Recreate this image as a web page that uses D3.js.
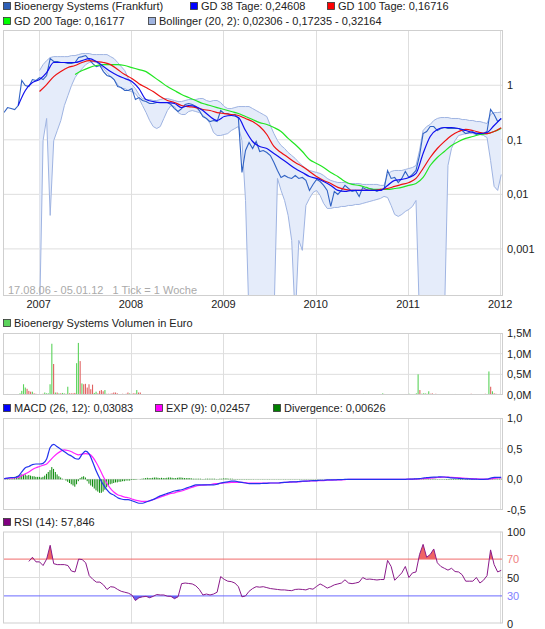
<!DOCTYPE html>
<html><head><meta charset="utf-8">
<script src="https://cdn.jsdelivr.net/npm/d3@7"></script>
<style>
body{margin:0;background:#fff}
text{font-family:"Liberation Sans",Arial,sans-serif;font-size:11px;fill:#222}
</style>
</head><body>
<svg id="c" width="545" height="629"></svg>
<script>
const startDate = Date.UTC(2006,7,17), endDate = Date.UTC(2012,0,5);
const years = [2007,2008,2009,2010,2011,2012];
const priceTicks = [1,0.1,0.01,0.001];
const priceTickLabels = ["1","0,1","0,01","0,001"];
const volTicks = [0,500,1000,1500];
const volTickLabels = ["0,0M","0,5M","1,0M","1,5M"];
const macdTicks = [-0.5,0,0.5,1];
const macdTickLabels = ["-0,5","0,0","0,5","1,0"];
const rsiTicks = [0,30,50,70,100];

// price, 2-week grid
const price = [0.316,0.390,0.374,0.359,0.425,1.22,0.99,0.947,1.27,1.22,
 1.38,1.27,1.51,3.08,2.72,2.72,2.61,2.61,2.50,2.50,
 2.61,3.22,3.35,3.50,2.96,2.50,2.20,2.30,1.78,1.51,
 1.44,1.27,0.947,0.908,0.800,0.800,0.870,0.547,0.595,0.525,
 0.503,0.462,0.462,0.482,0.482,0.482,0.482,0.443,0.374,0.330,
 0.374,0.443,0.462,0.443,0.407,0.344,0.267,0.246,0.216,0.226,
 0.216,0.344,0.303,0.303,0.279,0.291,0.246,0.0252,0.0637,0.0893,
 0.0693,0.0931,0.0611,0.0637,0.0585,0.0516,0.0384,0.0274,0.0204,0.0222,
 0.0204,0.0196,0.0222,0.0196,0.0204,0.0180,0.0118,0.0152,0.0188,0.0172,
 0.0146,0.0118,0.0060,0.0113,0.00996,0.0118,0.0146,0.0128,0.0113,0.0118,
 0.00916,0.0134,0.0123,0.0128,0.0123,0.0113,0.0123,0.0123,0.0274,0.0196,
 0.0204,0.0165,0.0196,0.0263,0.0204,0.0232,0.0274,0.0516,0.130,0.142,
 0.175,0.175,0.148,0.161,0.168,0.161,0.161,0.161,0.161,0.148,
 0.130,0.136,0.142,0.125,0.130,0.130,0.142,0.359,0.291,0.216,
 0.246];

// moving averages, 4-week grid
const gd38 = [null,null,0.425,0.80,1.12,1.27,1.71,2.61,2.61,2.61,
 2.61,2.83,3.08,2.72,2.20,1.78,1.51,1.33,1.17,0.870,
 0.547,0.503,0.482,0.482,0.462,0.390,0.425,0.407,0.344,0.267,
 0.226,0.267,0.279,0.256,0.148,0.0931,0.0754,0.0693,0.0561,0.0455,
 0.0368,0.0298,0.0252,0.0213,0.0196,0.0172,0.0146,0.0118,0.0113,0.0118,
 0.0118,0.0118,0.0118,0.0118,0.0146,0.0180,0.0188,0.0204,0.0242,0.0561,
 0.115,0.155,0.168,0.168,0.161,0.148,0.136,0.130,0.136,0.183,
 0.246];
const gd100 = [null,null,null,null,null,0.767,1.03,1.44,1.78,2.11,
 2.30,2.61,2.83,2.72,2.61,2.39,1.94,1.57,1.33,1.07,
 0.908,0.767,0.621,0.525,0.482,0.425,0.407,0.390,0.359,0.344,
 0.316,0.303,0.291,0.279,0.246,0.216,0.175,0.125,0.0754,0.0585,
 0.0474,0.0384,0.0324,0.0263,0.0213,0.0180,0.0158,0.0134,0.0123,0.0118,
 0.0118,0.0118,0.0118,0.0123,0.0128,0.0140,0.0152,0.0165,0.0196,0.0298,
 0.0474,0.0693,0.0931,0.120,0.142,0.155,0.148,0.136,0.130,0.142,
 0.167];
const gd200 = [null,null,null,null,null,null,null,null,null,null,
 1.57,1.86,2.11,2.30,2.39,2.39,2.39,2.30,2.11,1.94,
 1.78,1.44,1.17,0.947,0.800,0.676,0.595,0.525,0.462,0.425,
 0.390,0.359,0.330,0.303,0.267,0.235,0.207,0.191,0.168,0.142,
 0.106,0.0820,0.0611,0.0436,0.0368,0.0311,0.0252,0.0213,0.0172,0.0152,
 0.0146,0.0134,0.0123,0.0123,0.0123,0.0128,0.0134,0.0146,0.0158,0.0204,
 0.0338,0.0474,0.0611,0.0787,0.0931,0.106,0.115,0.125,0.130,0.142,
 0.162];

// Bollinger bands, 2-week grid
const bollUpper = [null,null,null,null,null,null,null,null,null,null,
 1.86,2.39,2.83,3.22,3.35,3.35,3.35,3.35,3.35,3.50,
 3.50,3.65,3.81,3.81,3.81,3.65,3.65,3.65,3.65,3.65,
 3.35,3.08,2.61,2.20,1.86,1.33,1.03,0.870,0.676,0.571,
 0.547,0.547,0.525,0.525,0.547,0.571,0.571,0.547,0.525,0.503,
 0.503,0.525,0.547,0.547,0.547,0.571,0.571,0.525,0.503,0.525,
 0.525,0.482,0.407,0.374,0.374,0.390,0.407,0.407,0.407,0.407,
 0.374,0.344,0.316,0.291,0.267,0.183,0.130,0.0970,0.0787,0.0693,
 0.0585,0.0516,0.0455,0.0384,0.0338,0.0298,0.0274,0.0263,0.0252,0.0242,
 0.0222,0.0196,0.0180,0.0172,0.0165,0.0165,0.0165,0.0158,0.0158,0.0158,
 0.0158,0.0152,0.0152,0.0152,0.0152,0.0152,0.0146,0.0146,0.0232,0.0263,
 0.0274,0.0274,0.0274,0.0286,0.0298,0.0311,0.0338,0.0637,0.148,0.175,
 0.191,0.226,0.246,0.256,0.256,0.256,0.246,0.246,0.246,0.235,
 0.235,0.226,0.226,0.216,0.216,0.207,0.199,0.291,0.316,0.316,
 0.322];
const bollLower = [null,null,null,null,null,null,null,null,null,null,
 0.00005,0.0970,0.246,0.00411,0.0970,0.148,0.226,0.425,0.648,0.99,
 1.38,1.71,2.02,2.39,2.61,2.72,2.61,2.39,2.02,1.71,
 1.44,1.27,1.03,0.870,0.870,0.800,0.767,0.705,0.571,0.425,
 0.316,0.226,0.175,0.161,0.175,0.246,0.344,0.425,0.407,0.316,
 0.291,0.291,0.330,0.344,0.330,0.316,0.279,0.246,0.199,0.136,
 0.120,0.120,0.125,0.130,0.148,0.161,0.175,0.0970,0.00773,0.00005,
 0.00005,0.00005,0.00005,0.00005,0.00005,0.00005,0.00005,0.0196,0.0118,0.00773,
 0.00411,0.00143,0.00005,0.00143,0.00094,0.00626,0.00842,0.0108,0.0118,0.00955,
 0.00683,0.00552,0.00552,0.00575,0.00575,0.00600,0.00600,0.00626,0.00626,0.00653,
 0.00653,0.00683,0.00711,0.00742,0.00773,0.00806,0.00842,0.00916,0.00877,0.00626,
 0.00428,0.00394,0.00428,0.00486,0.00530,0.00600,0.00773,0.00005,0.00005,0.00005,
 0.00005,0.00005,0.00005,0.00005,0.00005,0.0338,0.0693,0.0970,0.120,0.125,
 0.130,0.130,0.130,0.125,0.125,0.120,0.110,0.0418,0.0140,0.0118,
 0.0231];

// weekly volume in thousand euro, and up/down per week
const volumeK = [20,10,25,15,10,20,15,10,15,40,
 100,260,180,150,100,80,80,40,30,20,
 20,20,30,60,40,40,260,1240,750,60,
 60,40,40,50,40,30,200,40,40,40,
 50,770,1260,820,280,260,270,180,260,140,
 250,50,80,40,100,120,90,120,30,30,
 30,40,60,60,40,20,20,30,20,30,
 60,40,20,40,40,120,60,60,20,25,
 15,20,10,25,15,10,20,15,25,10,
 15,20,10,15,25,10,20,15,10,15,
 20,15,10,25,15,20,10,15,20,10,
 15,20,10,15,20,10,15,25,10,15,
 20,10,15,20,15,10,15,20,10,15,
 25,10,15,20,10,15,20,10,15,20,
 10,15,20,15,10,15,20,10,15,25,
 10,15,20,10,15,20,10,15,20,15,
 10,15,20,10,15,25,10,15,20,10,
 15,20,10,15,20,15,10,15,20,10,
 15,20,10,15,25,10,15,20,10,15,
 20,10,15,20,15,10,15,20,10,15,
 20,10,15,25,10,15,20,10,15,20,
 15,10,20,15,40,25,15,20,10,15,
 20,10,15,20,15,10,15,25,20,30,
 20,15,25,40,500,120,30,40,40,30,
 90,30,40,20,30,20,15,20,10,15,
 20,15,10,20,15,25,10,15,20,10,
 15,20,10,15,30,15,10,20,15,10,
 20,15,30,25,570,200,90,40,30,20,
 25,20];
const volumeDir = ["grgrrgrrgg","gggrrrgrrr","rrrgggggrg","rgrggrgrrr","rggrgrrrrr",
 "rggrrrrgrr","rrrrrrrrrr","rgrrrgrrrg","rrgrrgrrrg","rrgrrgrrgr",
 "rgrrgrgrrg","rrgrgrrgrr","grrgrrgrgr","rgrgrrgrgr","grgrrgrgrg",
 "rgrgrgrrgr","grgrgrgrgr","rgrgrgrgrg","rgrgrrgrgr","grgrgrgrrg",
 "rgrgrgrgrg","rgrggrgrgr","grgrgrgrgg","rgrggrgggr","grrgrgrgrg",
 "rgrgrgrgrg","rgrgrrgrgr","grrggrgrrg","rg"].join("");

// MACD, 2-week grid
const macd = [0.01,0.02,0.03,0.03,0.05,0.12,0.19,0.21,0.24,0.25,
 0.25,0.26,0.33,0.52,0.57,0.53,0.49,0.45,0.41,0.38,
 0.34,0.33,0.41,0.46,0.41,0.28,0.13,0.01,-0.09,-0.17,
 -0.23,-0.26,-0.30,-0.32,-0.33,-0.33,-0.35,-0.37,-0.39,-0.39,
 -0.37,-0.35,-0.33,-0.30,-0.27,-0.25,-0.23,-0.21,-0.19,-0.18,
 -0.17,-0.15,-0.13,-0.11,-0.09,-0.09,-0.09,-0.09,-0.09,-0.09,
 -0.08,-0.06,-0.05,-0.04,-0.03,-0.03,-0.04,-0.05,-0.06,-0.07,
 -0.07,-0.07,-0.07,-0.065,-0.065,-0.06,-0.06,-0.06,-0.055,-0.05,
 -0.045,-0.04,-0.04,-0.035,-0.03,-0.03,-0.025,-0.02,-0.02,-0.015,
 -0.015,-0.01,-0.01,-0.01,-0.005,-0.005,0,0,0,0,
 0,0,0,0,0,0,0,0,0,0,
 0,0,0,0,0.005,0.005,0.008,0.012,0.02,0.028,
 0.033,0.036,0.038,0.04,0.038,0.033,0.025,0.02,0.016,0.012,
 0.009,0.006,0.004,0.002,0,0,0.002,0.02,0.033,0.033,
 0.031];
const macdExp = [0.01,0.015,0.02,0.025,0.03,0.06,0.09,0.12,0.16,0.19,
 0.21,0.23,0.25,0.31,0.37,0.42,0.46,0.48,0.47,0.45,
 0.42,0.40,0.41,0.42,0.41,0.36,0.27,0.16,0.04,-0.07,
 -0.15,-0.21,-0.25,-0.27,-0.29,-0.30,-0.32,-0.34,-0.35,-0.36,
 -0.36,-0.35,-0.33,-0.31,-0.29,-0.27,-0.25,-0.23,-0.22,-0.20,
 -0.19,-0.17,-0.15,-0.13,-0.11,-0.10,-0.095,-0.09,-0.085,-0.075,
 -0.07,-0.065,-0.06,-0.055,-0.05,-0.05,-0.05,-0.05,-0.055,-0.06,
 -0.06,-0.06,-0.06,-0.06,-0.06,-0.06,-0.06,-0.06,-0.055,-0.05,
 -0.05,-0.045,-0.04,-0.04,-0.035,-0.03,-0.03,-0.025,-0.025,-0.02,
 -0.02,-0.015,-0.015,-0.01,-0.01,-0.008,-0.005,0,0,0,
 0,0,0,0,0,0,0,0,0,0,
 0,0,0,0,0.002,0.004,0.005,0.007,0.01,0.015,
 0.02,0.025,0.03,0.033,0.035,0.035,0.033,0.03,0.026,0.022,
 0.018,0.014,0.011,0.008,0.005,0.004,0.004,0.008,0.016,0.022,
 0.025];
// divergence, weekly
const divergence = [0,0.005,0.01,0.01,0.02,0.03,0.04,0.05,0.06,0.07,
 0.08,0.07,0.08,0.06,0.07,0.06,0.05,0.05,0.04,0.04,
 0.04,0.03,0.04,0.06,0.09,0.12,0.15,0.2,0.17,0.12,
 0.08,0.05,0.03,0.01,0,-0.02,-0.04,-0.06,-0.08,-0.1,
 -0.12,-0.08,-0.03,0.02,0.04,0.05,0.03,-0.03,-0.07,-0.1,
 -0.12,-0.15,-0.18,-0.2,-0.22,-0.22,-0.2,-0.17,-0.13,-0.1,
 -0.08,-0.07,-0.06,-0.05,-0.05,-0.04,-0.04,-0.03,-0.03,-0.02,
 -0.02,-0.02,-0.01,-0.01,-0.01,-0.005,0,0.005,0.01,0.015,
 0.02,0.025,0.02,0.02,0.025,0.03,0.03,0.025,0.02,0.025,
 0.02,0.02,0.025,0.03,0.03,0.025,0.02,0.02,0.025,0.03,
 0.03,0.025,0.02,0.02,0.02,0.02,0.015,0.01,0.01,0.01,
 0.01,0.01,0.005,0.005,0.01,0.01,0.01,0.01,0.01,0.01,
 0.005,0.005,0.01,0.01,0.015,0.015,0.015,0.01,0.01,0.01,
 0.005,0.005,0.005,0.005,0.005,0.005,0.005,0.005,0.005,0.005,
 0.004,0.004,0.003,0.004,0.004,0.003,0.004,0.004,0.003,0.004,
 0.004,0.003,0.004,0.004,0.003,0.004,0.004,0.003,0.004,0.004,
 0.003,0.004,0.004,0.003,0.004,0.004,0.003,0.004,0.004,0.003,
 0.004,0.004,0.003,0.004,0.004,0.003,0.004,0.004,0.003,0.004,
 0.003,0.003,0.003,0.003,0.003,0.003,0.003,0.003,0.003,0.003,
 0.003,0.003,0.003,0.003,0.003,0.003,0.003,0.003,0.003,0.003,
 0.002,0.002,0.002,0.002,0.002,0.002,0.002,0.002,0.002,0.002,
 0.002,0.002,0.002,0.002,0.002,0.002,0.002,0.002,0.002,0.002,
 0.002,0.002,0.002,0.002,0.002,0.002,0.002,0.002,0.002,0.002,
 0.01,0.01,0.012,0.012,0.01,0.01,0.012,0.01,0.01,0.01,
 0.01,0.008,0.01,0.01,0.008,0.005,0.005,0.005,0.005,0.005,
 -0.008,-0.008,-0.008,-0.008,-0.008,-0.008,-0.008,-0.008,-0.008,-0.008,
 -0.008,-0.008,-0.008,-0.008,-0.008,-0.008,-0.008,-0.008,-0.008,-0.008,
 -0.003,-0.003,-0.003,-0.003,-0.003,0.01,0.01,0.01,0.01,0.01,
 0.01,0.01];
// RSI, 2-week grid
const rsi = [null,null,null,null,null,null,null,67.5,72,67,
 67,63,70,85,65,64,64,64,63,57,
 56,70,69.5,66,52,48,45,45,42,37,
 40,39.5,37,35,34,33,31,25,28,29,
 29.5,28,29.5,31.5,31,31,29.7,29.5,27,29,
 43.3,44,43.5,43,41,37,31,32,31,32,
 34,51,48,46,45.5,44,40,29,30,35,
 38,40,39.5,40,39,38,37.5,37,36.5,36.5,
 36,35.7,37,37.3,37,36.5,38,37.3,40.3,43,
 41,38.5,40,42,43,44,47.5,44,43.3,44,
 45,50,48,48.3,47.8,47.3,47.8,47.8,68.6,62,
 47,51,55,62,50,55,56,75,86,72,
 75,81,66,62,60,58,60,56.5,56,53,
 46,46,46,50,44,47,52,80,64,56,
 57.8];

// ---------- drawing ----------
const svg = d3.select("#c");
svg.append("rect").attr("width",545).attr("height",629).attr("fill","#fff");
const L = 3, R = 503;
const x = d3.scaleUtc().domain([Date.UTC(2006,7,13), Date.UTC(2012,0,12)]).range([L, R]);
const grid = n => d3.range(n).map(i => new Date(startDate + i*(endDate-startDate)/(n-1)));
const d2 = grid(141), d4 = grid(71), dW = grid(282);
const zip = (dates, vals) => vals.map((v,i)=>({d:dates[i], v}));

const gridCol = "#dedede", borderCol = "#cfcfcf";
function panel(top, bottom, yScale, hTicks){
  const g = svg.append("g");
  hTicks.forEach(t => g.append("line").attr("x1",L).attr("x2",R)
    .attr("y1",yScale(t)).attr("y2",yScale(t)).attr("stroke",gridCol).attr("stroke-width",1));
  years.forEach(yr => { const xx = Math.round(x(new Date(Date.UTC(yr,0,1))))+0.5;
    g.append("line").attr("x1",xx).attr("x2",xx).attr("y1",top).attr("y2",bottom)
     .attr("stroke",gridCol).attr("stroke-width",1); });
  return g;
}
function border(top,bottom){
  svg.append("rect").attr("x",L+0.5).attr("y",top+0.5).attr("width",R-L-1).attr("height",bottom-top-1)
    .attr("fill","none").attr("stroke",borderCol);
}
function clip(id, top, bottom){
  svg.append("clipPath").attr("id",id).append("rect").attr("x",L).attr("y",top).attr("width",R-L).attr("height",bottom-top);
  return "url(#"+id+")";
}
function legend(items, yb){
  items.forEach(it => {
    svg.append("rect").attr("x",it.x+0.5).attr("y",yb-7.5).attr("width",7).attr("height",7)
      .attr("fill",it.c).attr("stroke","#333").attr("stroke-width",0.8);
    svg.append("text").attr("x",it.x+11).attr("y",yb).text(it.t);
  });
}
function rightLabels(scale, ticks, labels, colors){
  ticks.forEach((t,i)=> svg.append("text").attr("x",507).attr("y",scale(t)+4)
    .style("fill", colors ? colors[i] : "#222").text(labels[i]));
}

// ---- main price panel ----
const mTop = 30, mBot = 296;
const y = d3.scaleLog().domain([0.000137, 10.3]).range([mBot, mTop]);
panel(mTop, mBot, y, priceTicks);
const mClip = clip("mclip", mTop, mBot);
const gm = svg.append("g").attr("clip-path", mClip);
const band = d2.map((d,i)=>({d, lo:bollLower[i], hi:bollUpper[i]}));
gm.append("path").datum(band)
  .attr("d", d3.area().defined(p=>p.lo!=null&&p.hi!=null).x(p=>x(p.d)).y0(p=>y(p.lo)).y1(p=>y(p.hi)))
  .attr("fill","#e5ecfa");
[["lo"],["hi"]].forEach(([k])=> gm.append("path").datum(band)
  .attr("d", d3.line().defined(p=>p[k]!=null).x(p=>x(p.d)).y(p=>y(p[k])))
  .attr("fill","none").attr("stroke","#9fb4e2").attr("stroke-width",1));
const line = d3.line().defined(p=>p.v!=null).x(p=>x(p.d)).y(p=>y(p.v));
gm.append("path").datum(zip(d2,price)).attr("d",line).attr("fill","none").attr("stroke","#3163c4").attr("stroke-width",1.1);
gm.append("path").datum(zip(d4,gd200)).attr("d",line.curve(d3.curveMonotoneX)).attr("fill","none").attr("stroke","#22e622").attr("stroke-width",1.2);
gm.append("path").datum(zip(d4,gd100)).attr("d",line.curve(d3.curveMonotoneX)).attr("fill","none").attr("stroke","#ee1111").attr("stroke-width",1.2);
gm.append("path").datum(zip(d4,gd38)).attr("d",line.curve(d3.curveMonotoneX)).attr("fill","none").attr("stroke","#1010ee").attr("stroke-width",1.2);
border(mTop, mBot);
rightLabels(y, priceTicks, priceTickLabels);
years.forEach(yr => svg.append("text").attr("x", x(new Date(Date.UTC(yr,0,1)))).attr("y",308)
  .attr("text-anchor","middle").text(yr));
svg.append("text").attr("x",8).attr("y",294).style("fill","#aaa").style("white-space","pre")
  .text("17.08.06 - 05.01.12   1 Tick = 1 Woche");
legend([{x:3,c:"#2d5fb7",t:"Bioenergy Systems (Frankfurt)"},
        {x:190,c:"#0000ff",t:"GD 38 Tage: 0,24608"},
        {x:327,c:"#ff0000",t:"GD 100 Tage: 0,16716"}], 10);
legend([{x:3,c:"#00ff00",t:"GD 200 Tage: 0,16177"},
        {x:148,c:"#a0b4e0",t:"Bollinger (20, 2): 0,02306 - 0,17235 - 0,32164"}], 25);

// ---- volume panel ----
const vTop = 333, vBot = 395;
const yv = d3.scaleLinear().domain([0,1500]).range([vBot, vTop]);
panel(vTop, vBot, yv, [500,1000]);
const gv = svg.append("g").attr("clip-path", clip("vclip", vTop, vBot));
gv.selectAll("rect").data(volumeK).join("rect")
  .attr("x",(v,i)=>x(dW[i])-0.5).attr("width",1.1)
  .attr("y",v=>yv(v)).attr("height",v=>yv(0)-yv(v))
  .attr("fill",(v,i)=> volumeDir[i]==="g" ? "#5bd35b" : "#e06262");
border(vTop, vBot);
rightLabels(yv, volTicks, volTickLabels);
legend([{x:3,c:"#5bd35b",t:"Bioenergy Systems Volumen in Euro"}], 327);

// ---- MACD panel ----
const cTop = 418, cBot = 510;
const yc = d3.scaleLinear().domain([-0.5,1]).range([cBot, cTop]);
panel(cTop, cBot, yc, [0,0.5]);
const gc = svg.append("g").attr("clip-path", clip("cclip", cTop, cBot));
gc.selectAll("rect").data(divergence).join("rect")
  .attr("x",(v,i)=>x(dW[i])-0.5).attr("width",1)
  .attr("y",v=>Math.min(yc(v),yc(0))).attr("height",v=>Math.abs(yc(v)-yc(0)))
  .attr("fill","#0a8a0a");
const lineC = d3.line().x(p=>x(p.d)).y(p=>yc(p.v)).curve(d3.curveMonotoneX);
gc.append("path").datum(zip(d2,macdExp)).attr("d",lineC).attr("fill","none").attr("stroke","#ff22ff").attr("stroke-width",1.2);
gc.append("path").datum(zip(d2,macd)).attr("d",lineC).attr("fill","none").attr("stroke","#2233ee").attr("stroke-width",1.2);
border(cTop, cBot);
rightLabels(yc, macdTicks, macdTickLabels);
legend([{x:3,c:"#0000ff",t:"MACD (26, 12): 0,03083"},
        {x:155,c:"#ff00ff",t:"EXP (9): 0,02457"},
        {x:273,c:"#008000",t:"Divergence: 0,00626"}], 412);

// ---- RSI panel ----
const rTop = 531.5, rBot = 623.5;
const yr = d3.scaleLinear().domain([0,100]).range([rBot, rTop]);
panel(rTop, rBot, yr, [50]);
const rsiData = zip(d2, rsi);
svg.append("clipPath").attr("id","rHi").append("rect").attr("x",L).attr("y",rTop).attr("width",R-L).attr("height",yr(70)-rTop);
svg.append("clipPath").attr("id","rLo").append("rect").attr("x",L).attr("y",yr(30)).attr("width",R-L).attr("height",rBot-yr(30));
svg.append("path").datum(rsiData).attr("clip-path","url(#rHi)")
  .attr("d", d3.area().defined(p=>p.v!=null).x(p=>x(p.d)).y0(yr(70)).y1(p=>yr(p.v))).attr("fill","#f06464");
svg.append("path").datum(rsiData).attr("clip-path","url(#rLo)")
  .attr("d", d3.area().defined(p=>p.v!=null).x(p=>x(p.d)).y0(yr(30)).y1(p=>yr(p.v))).attr("fill","#5f5ff0");
svg.append("line").attr("x1",L).attr("x2",R).attr("y1",yr(70)).attr("y2",yr(70)).attr("stroke","#f06a6a").attr("stroke-width",1);
svg.append("line").attr("x1",L).attr("x2",R).attr("y1",yr(30)).attr("y2",yr(30)).attr("stroke","#6a6aff").attr("stroke-width",1);
svg.append("path").datum(rsiData)
  .attr("d", d3.line().defined(p=>p.v!=null).x(p=>x(p.d)).y(p=>yr(p.v)))
  .attr("fill","none").attr("stroke","#8a1a8a").attr("stroke-width",1);
border(rTop, rBot);
rightLabels(yr, rsiTicks, ["0","30","50","70","100"], ["#222","#8080ff","#222","#f08080","#222"]);
legend([{x:3,c:"#800080",t:"RSI (14): 57,846"}], 526);
</script>
</body></html>
